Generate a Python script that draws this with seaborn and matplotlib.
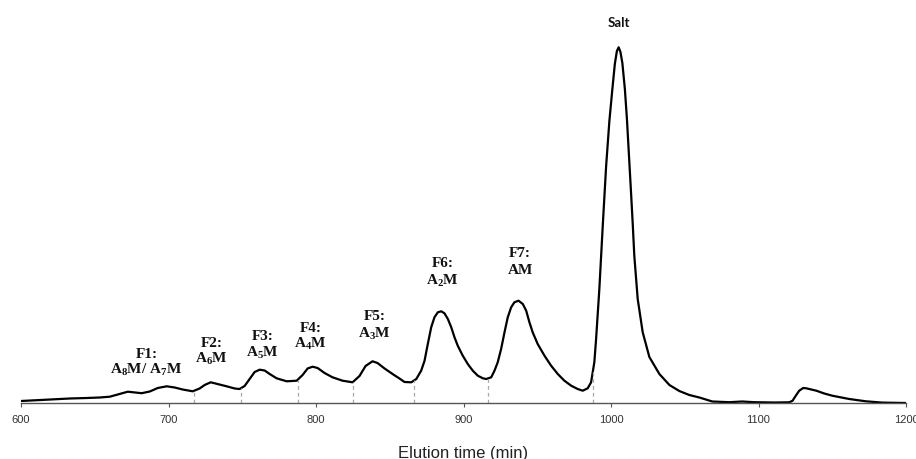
import numpy as np
import pandas as pd
import matplotlib
matplotlib.use("Agg")
import matplotlib.pyplot as plt
import seaborn as sns

# Anion-exchange elution profile (arbitrary detector units)
time_min = [
    600, 612.7, 621.5, 633.1, 644.6, 653.4, 660.2, 665.6, 672.4, 677.1,
    681.8, 687.3, 692.7, 698.8, 704.2, 709.6, 716.4, 721.1, 724.5, 728.6,
    733.3, 739.4, 744.9, 748.2, 751.6, 755.0, 758.4, 761.8, 765.2, 768.6,
    773.3, 780.1, 786.9, 790.9, 794.3, 797.7, 801.1, 805.8, 811.2, 818.0,
    824.8, 829.5, 833.6, 838.3, 841.7, 846.5, 851.9, 856.6, 860.0, 864.6,
    868.0, 871.3, 873.6, 875.8, 878.1, 880.3, 882.6, 884.9, 887.1, 889.4,
    891.7, 893.9, 896.1, 899.5, 902.9, 906.3, 909.7, 913.1, 915.4, 918.8,
    921.0, 923.2, 925.5, 927.8, 930.0, 932.3, 934.5, 937.3, 940.2, 942.5,
    944.7, 946.9, 950.3, 954.9, 959.4, 963.9, 968.4, 973.0, 977.4, 980.8,
    984.2, 986.5, 988.7, 989.9, 992.1, 994.4, 996.7, 998.9, 1000.8, 1002.6,
    1004.0, 1005.2, 1006.4, 1007.7, 1009.4, 1010.8, 1012.5, 1013.6, 1014.7, 1015.8,
    1018.1, 1021.5, 1026.0, 1032.8, 1039.6, 1046.3, 1053.1, 1059.9, 1068.7, 1080.2,
    1089.0, 1097.1, 1110.7, 1120.9, 1123.1, 1125.6, 1127.6, 1130.3, 1132.4, 1135.8,
    1139.2, 1144.6, 1150.0, 1156.1, 1161.5, 1172.8, 1183.9, 1200,
]
signal = [
    2.0, 3.0, 3.7, 4.5, 5.0, 5.5, 6.3, 8.5, 11.3, 10.5,
    9.8, 11.5, 15.0, 16.7, 15.5, 13.5, 11.7, 14.5, 18.0, 20.7,
    19.0, 16.7, 14.5, 14.0, 17.0, 24.0, 31.0, 33.3, 32.5, 29.0,
    24.7, 21.7, 22.3, 28.0, 34.5, 36.3, 35.0, 30.0, 25.7, 22.3,
    20.7, 27.0, 37.0, 41.7, 40.0, 34.5, 29.0, 24.5, 21.0, 20.7,
    24.0, 32.3, 42.3, 59.0, 75.7, 85.7, 90.7, 91.7, 89.7, 84.0,
    75.7, 65.7, 57.3, 47.3, 39.0, 32.3, 27.3, 24.7, 24.0, 25.7,
    32.3, 40.7, 54.0, 70.7, 85.7, 95.7, 100.7, 102.3, 99.0, 92.3,
    80.7, 70.7, 59.0, 47.3, 37.3, 29.0, 22.3, 17.3, 14.0, 12.3,
    14.7, 20.7, 40.7, 64.0, 114.0, 177.0, 237.0, 282.0, 312.0, 339.0,
    352.0, 355.7, 351.0, 340.0, 314.0, 284.0, 240.0, 210.0, 180.0, 147.3,
    104.0, 70.7, 46.0, 29.0, 18.0, 12.0, 8.0, 5.5, 1.5, 0.8,
    1.5, 0.8, 0.5, 0.7, 2.3, 8.0, 12.3, 15.0, 14.7, 13.5,
    12.3, 9.5, 7.3, 5.5, 4.0, 1.7, 0.4, 0.0,
]

# Cut points between collected fractions (min)
fraction_cuts = [717.0, 749.0, 787.7, 825.0, 866.6, 916.6, 987.8]

# Fraction annotations: name, composition, x position, heights of the two lines
fraction_names = ["F1:", "F2:", "F3:", "F4:", "F5:", "F6:", "F7:"]
fraction_species = [
    r"A$_\mathbf{8}$M/ A$_\mathbf{7}$M",
    r"A$_\mathbf{6}$M",
    r"A$_\mathbf{5}$M",
    r"A$_\mathbf{4}$M",
    r"A$_\mathbf{3}$M",
    r"A$_\mathbf{2}$M",
    "AM",
]
label_x = [685.0, 729.1, 763.6, 796.3, 839.7, 886.0, 938.4]
name_y = [49.7, 60.7, 67.3, 75.7, 88.0, 140.7, 150.7]
species_y = [34.0, 44.7, 51.3, 60.0, 70.0, 123.3, 133.3]

salt_label = "Salt"
salt_x, salt_y = 1005.2, 381.3

x_ticks = [600, 700, 800, 900, 1000, 1100, 1200]

sns.set_theme(style="white")
plt.rcParams["font.family"] = ["Liberation Sans", "DejaVu Sans"]
plt.rcParams["mathtext.fontset"] = "custom"
plt.rcParams["mathtext.rm"] = "Liberation Serif:bold"
plt.rcParams["mathtext.bf"] = "Liberation Serif:bold"
plt.rcParams["mathtext.it"] = "Liberation Serif:bold"

W, H = 916, 460
fig = plt.figure(figsize=(W / 100, H / 100), dpi=100)
ax = fig.add_axes([21 / W, 56 / H, 885 / W, 400 / H])

df = pd.DataFrame({"time": time_min, "signal": signal})
sns.lineplot(data=df, x="time", y="signal", ax=ax, color="black",
             linewidth=1.6, estimator=None, sort=True,
             solid_joinstyle="round", solid_capstyle="round")

# Dashed fraction boundaries rising from the baseline to the trace
cut_heights = np.interp(fraction_cuts, time_min, signal)
ax.vlines(fraction_cuts, 0, cut_heights, colors="#a8a8a8",
          linestyles=(0, (3, 2.5)), linewidth=0.9)

serif_kw = dict(ha="center", va="center", fontsize=11, fontweight="bold",
                family="Liberation Serif", color="#111111")
for x, n, s, yn, ys in zip(label_x, fraction_names, fraction_species,
                           name_y, species_y):
    ax.text(x, yn, n, **serif_kw)
    ax.text(x, ys, s, **serif_kw)

ax.text(salt_x, salt_y, salt_label, ha="center", va="center", fontsize=9.5,
        fontweight="bold", family="Lato", color="#111111", clip_on=False)

ax.set_xlim(600, 1200)
ax.set_ylim(0, 400)
ax.set_xticks(x_ticks)
ax.set_yticks([])
ax.set_ylabel("")
ax.set_xlabel("Elution time (min)", fontsize=12, color="#222222", labelpad=15)
ax.tick_params(axis="x", direction="out", length=3, width=0.8, colors="#555555",
               labelcolor="#333333", labelsize=8, pad=5, bottom=True)

for side in ["top", "right", "left"]:
    ax.spines[side].set_visible(False)
ax.spines["bottom"].set_color("#555555")
ax.spines["bottom"].set_linewidth(1.0)

fig.savefig("out.png", dpi=100)
